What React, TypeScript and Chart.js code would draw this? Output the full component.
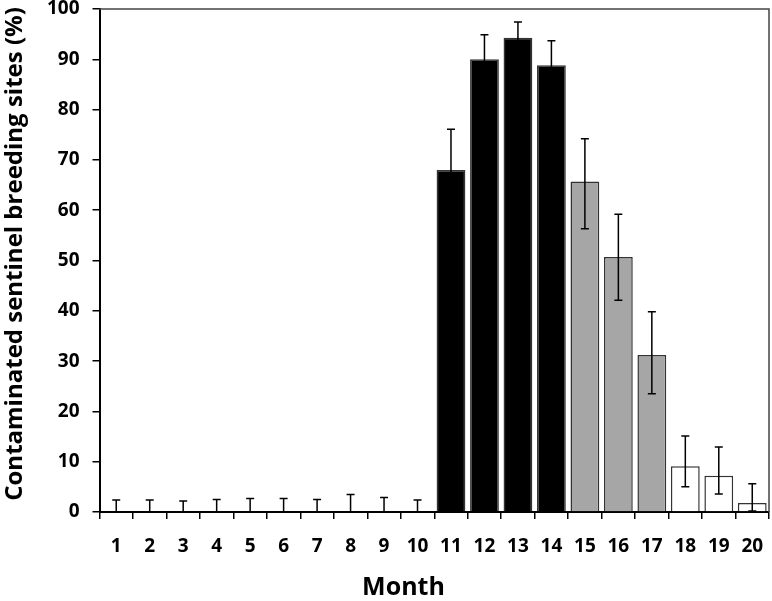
import React, { useEffect, useRef } from "react";
import { Chart, registerables } from "chart.js";

Chart.register(...registerables);

const months = ["1","2","3","4","5","6","7","8","9","10","11","12","13","14","15","16","17","18","19","20"];
const contaminated = [0,0,0,0,0,0,0,0,0,0, 68,90,94.3,88.8,65.7,50.7,31.2,9.1,7.2,1.8];
const ciHigh = [2.4,2.4,2.2,2.5,2.7,2.7,2.5,3.5,2.9,2.4, 76.1,94.9,97.4,93.7,74.2,59.2,39.8,15.1,12.9,5.6];
const ciLow = [0,0,0,0,0,0,0,0,0,0, 59.5,83,89,82,56.3,42.1,23.5,5.0,3.6,0.2];
const barColors = [
  "#ffffff","#ffffff","#ffffff","#ffffff","#ffffff","#ffffff","#ffffff","#ffffff","#ffffff","#ffffff",
  "#000000","#000000","#000000","#000000","#a6a6a6","#a6a6a6","#a6a6a6","#ffffff","#ffffff","#ffffff",
];
const yTicks = [0,10,20,30,40,50,60,70,80,90,100];
const xTitle = "Month";
const yTitle = "Contaminated sentinel breeding sites (%)";

const FONT = "'Open Sans', Lato, sans-serif";

const errorBarPlugin = {
  id: "errorBars",
  afterDatasetsDraw(chart: any) {
    const ctx = chart.ctx;
    const meta = chart.getDatasetMeta(0);
    const y = chart.scales.y;
    ctx.save();
    ctx.strokeStyle = "#000";
    ctx.lineWidth = 1.5;
    const cap = 4;
    meta.data.forEach((bar: any, i: number) => {
      const x = bar.x;
      const yHi = y.getPixelForValue(ciHigh[i]);
      const yLo = y.getPixelForValue(Math.max(0, ciLow[i]));
      ctx.beginPath();
      ctx.moveTo(x, yHi);
      ctx.lineTo(x, yLo);
      ctx.moveTo(x - cap, yHi);
      ctx.lineTo(x + cap, yHi);
      ctx.moveTo(x - cap, yLo);
      ctx.lineTo(x + cap, yLo);
      ctx.stroke();
    });
    ctx.restore();
  },
};

const framePlugin = {
  id: "frame",
  afterDraw(chart: any) {
    const { ctx, chartArea } = chart;
    ctx.save();
    ctx.strokeStyle = "#444";
    ctx.lineWidth = 1.5;
    ctx.beginPath();
    ctx.moveTo(chartArea.left, chartArea.top);
    ctx.lineTo(chartArea.right, chartArea.top);
    ctx.lineTo(chartArea.right, chartArea.bottom);
    ctx.stroke();

    ctx.fillStyle = "#000";
    ctx.textAlign = "center";
    ctx.textBaseline = "middle";
    ctx.font = `bold 25px ${FONT}`;
    ctx.fillText(xTitle, 403.5, 588);
    ctx.translate(15, 254);
    ctx.rotate(-Math.PI / 2);
    ctx.font = `bold 24px ${FONT}`;
    ctx.fillText(yTitle, 0, 0);
    ctx.restore();
  },
};

export default function App() {
  const ref = useRef<HTMLCanvasElement>(null);
  useEffect(() => {
    const chart = new Chart(ref.current as HTMLCanvasElement, {
      type: "bar",
      data: {
        labels: months,
        datasets: [
          {
            data: contaminated,
            backgroundColor: barColors,
            borderColor: "#333",
            borderWidth: 1.5,
            barPercentage: 0.86,
            categoryPercentage: 1,
          },
        ],
      },
      options: {
        animation: false,
        responsive: false,
        maintainAspectRatio: false,
        layout: { padding: { top: 9, right: 3, left: 0, bottom: 0 } },
        plugins: { legend: { display: false }, tooltip: { enabled: false } },
        scales: {
          x: {
            grid: { display: true, drawOnChartArea: false, drawTicks: true, tickLength: 7, color: "#000", lineWidth: 1.5, offset: true },
            border: { color: "#000", width: 2 },
            ticks: { color: "#000", font: { family: FONT, size: 19, weight: "bold" }, padding: 16.5, maxRotation: 0 },
            afterFit(scale: any) {
              scale.height = 89;
              scale.paddingLeft = 0;
              scale.paddingRight = 0;
            },
          },
          y: {
            min: 0,
            max: 100,
            afterBuildTicks(scale: any) { scale.ticks = yTicks.map((v) => ({ value: v })); },
            grid: { display: true, drawOnChartArea: false, drawTicks: true, tickLength: 7, color: "#000", lineWidth: 1.5 },
            border: { color: "#000", width: 2 },
            ticks: { color: "#000", font: { family: FONT, size: 19, weight: "bold" }, padding: 13 },
            afterFit(scale: any) {
              scale.width = 99.5;
              scale.paddingTop = 0;
              scale.paddingBottom = 0;
            },
          },
        },
      },
      plugins: [errorBarPlugin, framePlugin],
    });
    return () => chart.destroy();
  }, []);
  return (
    <div style={{ position: "fixed", left: 0, top: 0, width: 772, height: 601, background: "#fff" }}>
      <canvas ref={ref} width={772} height={601} style={{ width: 772, height: 601, display: "block" }} />
    </div>
  );
}
